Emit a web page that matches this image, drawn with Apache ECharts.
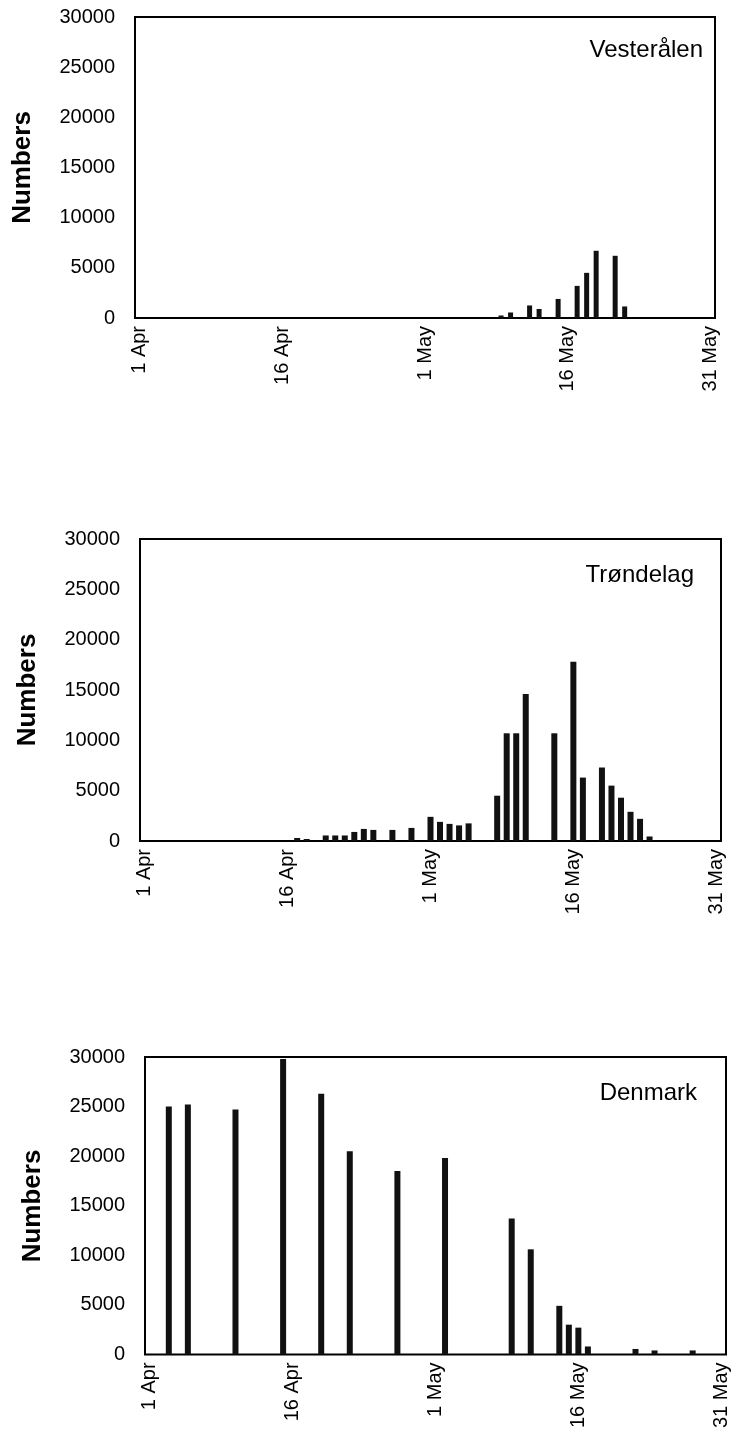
<!DOCTYPE html>
<html>
<head>
<meta charset="utf-8">
<script src="https://cdn.jsdelivr.net/npm/echarts@6/dist/echarts.min.js"></script>
<style>
html,body{margin:0;padding:0;background:#fff;}
#chart{width:734px;height:1431px;}
</style>
</head>
<body>
<div id="chart"></div>
<script>
// Day categories 1 Apr .. 31 May
var monthNames = ['Apr', 'May'];
var monthLengths = [30, 31];
var categories = [];
for (var m = 0; m < monthNames.length; m++) {
  for (var d = 1; d <= monthLengths[m]; d++) categories.push(d + ' ' + monthNames[m]);
}
var tickLabels = ['1 Apr', '16 Apr', '1 May', '16 May', '31 May'];
var yTicks = [0, 5000, 10000, 15000, 20000, 25000, 30000];

var panelNames = ['Vesterålen', 'Trøndelag', 'Denmark'];

// Vesterålen
var vesDays   = ['9 May', '10 May', '12 May', '13 May', '15 May', '17 May', '18 May', '19 May', '21 May', '22 May'];
var vesValues = [250, 550, 1250, 900, 1900, 3200, 4500, 6700, 6200, 1150];

// Trøndelag
var troDays   = ['17 Apr', '18 Apr', '20 Apr', '21 Apr', '22 Apr', '23 Apr', '24 Apr', '25 Apr', '27 Apr', '29 Apr',
                 '1 May', '2 May', '3 May', '4 May', '5 May', '8 May', '9 May', '10 May', '11 May', '14 May',
                 '16 May', '17 May', '19 May', '20 May', '21 May', '22 May', '23 May', '24 May'];
var troValues = [300, 200, 550, 550, 550, 900, 1200, 1100, 1100, 1300,
                 2400, 1900, 1700, 1550, 1750, 4500, 10700, 10700, 14600, 10700,
                 17800, 6300, 7300, 5500, 4300, 2900, 2200, 450];

// Denmark
var denDays   = ['3 Apr', '5 Apr', '10 Apr', '15 Apr', '19 Apr', '22 Apr', '27 Apr', '2 May', '9 May', '11 May',
                 '14 May', '15 May', '16 May', '17 May', '22 May', '24 May', '28 May'];
var denValues = [25000, 25200, 24700, 29800, 26300, 20500, 18500, 19800, 13700, 10600,
                 4900, 3000, 2700, 800, 550, 400, 400];

var grids = [
  {left: 135, top: 17, width: 580, height: 301},
  {left: 140, top: 539, width: 581, height: 302},
  {left: 145, top: 1057, width: 581, height: 298}
];
var barWidths = [5, 6, 6];
var titlePos = [[703, 50], [694, 575], [697, 1093]];

var dataSets = [[vesDays, vesValues], [troDays, troValues], [denDays, denValues]];

var FONT = "'Liberation Sans', Arial, Helvetica, sans-serif";

var option = {
  backgroundColor: '#fff',
  animation: false,
  grid: [], xAxis: [], yAxis: [], series: [], graphic: []
};

for (var i = 0; i < 3; i++) {
  var g = grids[i];
  option.grid.push({left: g.left, top: g.top, width: g.width, height: g.height,
    show: true, borderColor: '#000', borderWidth: 2, backgroundColor: '#fff', containLabel: false});
  option.xAxis.push({
    type: 'category', gridIndex: i, data: categories, boundaryGap: true,
    axisLine: {show: false}, axisTick: {show: false}, splitLine: {show: false},
    axisLabel: {
      rotate: 90, interval: 0, margin: 8, fontSize: 20, color: '#000', fontFamily: FONT,
      formatter: function (v) { return tickLabels.indexOf(v) >= 0 ? v : ''; }
    }
  });
  option.yAxis.push({
    type: 'value', gridIndex: i, min: yTicks[0], max: yTicks[yTicks.length - 1], interval: 5000,
    axisLine: {show: false}, axisTick: {show: false}, splitLine: {show: false},
    axisLabel: {margin: 20, fontSize: 20, color: '#000', fontFamily: FONT,
      formatter: function (v) { return String(v); }}
  });
  var ds = dataSets[i];
  var data = [];
  for (var k = 0; k < ds[0].length; k++) data.push([ds[0][k], ds[1][k]]);
  option.series.push({
    type: 'bar', xAxisIndex: i, yAxisIndex: i, data: data,
    barWidth: barWidths[i], itemStyle: {color: '#111'}, silent: true
  });
  option.graphic.push({
    type: 'text', x: 23 + (g.left - 135), y: g.top + g.height / 2, rotation: Math.PI / 2,
    style: {text: 'Numbers', font: 'bold 26px ' + FONT, fill: '#000', textAlign: 'center', textVerticalAlign: 'middle'}
  });
  option.graphic.push({
    type: 'text', x: titlePos[i][0], y: titlePos[i][1],
    style: {text: panelNames[i], font: '24px ' + FONT, fill: '#000', textAlign: 'right', textVerticalAlign: 'middle'}
  });
}

var chart = echarts.init(document.getElementById('chart'), null, {renderer: 'canvas'});
chart.setOption(option);
</script>
</body>
</html>
